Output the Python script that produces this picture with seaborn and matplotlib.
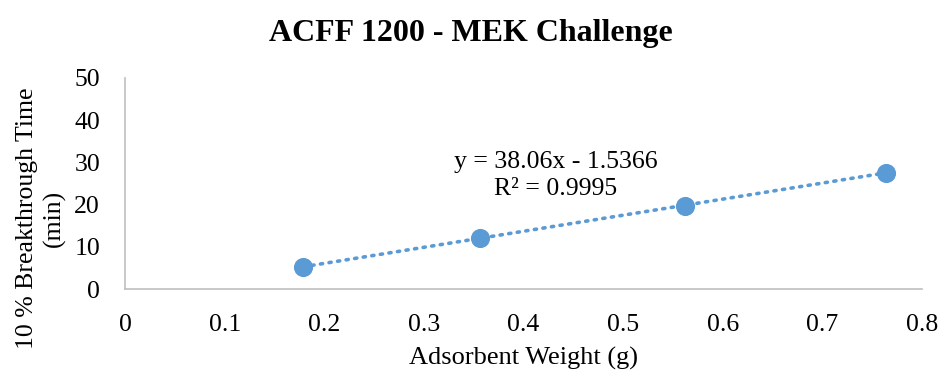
import numpy as np
import pandas as pd
import seaborn as sns
import matplotlib
matplotlib.use("Agg")
import matplotlib.pyplot as plt

# Adsorbent weight (g) and 10 % breakthrough time (min)
weight = [0.179, 0.356, 0.562, 0.764]
breakthrough = [5.3, 12.0, 19.6, 27.5]

# Linear trendline coefficients and fit quality
slope = 38.06
intercept = -1.5366
r_squared = 0.9995

x_ticks = [0, 0.1, 0.2, 0.3, 0.4, 0.5, 0.6, 0.7, 0.8]
x_tick_labels = ["0", "0.1", "0.2", "0.3", "0.4", "0.5", "0.6", "0.7", "0.8"]
y_ticks = [0, 10, 20, 30, 40, 50]

sns.set_theme(style="white")
plt.rcParams["font.family"] = ["Liberation Serif", "DejaVu Serif"]
plt.rcParams["text.color"] = "black"
plt.rcParams["axes.labelcolor"] = "black"

df = pd.DataFrame({"weight": weight, "time": breakthrough})

fig = plt.figure(figsize=(9.42, 3.75), dpi=100)
ax = fig.add_axes([0.1327, 0.2293, 0.9788 - 0.1327, 0.792 - 0.2293])

blue = "#5B9BD5"

# Dotted linear trendline over the data range
xs = np.array([min(weight), max(weight)])
ax.plot(xs, slope * xs + intercept, linestyle=(0, (0.6, 1.8)), dash_capstyle="round",
        color=blue, linewidth=2.6, zorder=2)

sns.scatterplot(data=df, x="weight", y="time", ax=ax, color=blue, s=190,
                edgecolor=blue, linewidth=0, zorder=3, legend=False)

ax.set_xlim(0, 0.8)
ax.set_ylim(0, 50)
ax.set_xticks(x_ticks)
ax.set_xticklabels(x_tick_labels)
ax.set_yticks(y_ticks)
ax.tick_params(axis="both", length=0, labelsize=18.5, colors="black")
ax.tick_params(axis="x", pad=18)
ax.tick_params(axis="y", pad=18)

for side in ["top", "right"]:
    ax.spines[side].set_visible(False)
for side in ["left", "bottom"]:
    ax.spines[side].set_color("#BFBFBF")
    ax.spines[side].set_linewidth(1.2)

ax.set_xlabel("Adsorbent Weight (g)", fontsize=19, labelpad=8, color="black")
ax.set_ylabel("")
fig.text(41 / 942, 1 - 218 / 375, "10 % Breakthrough Time\n(min)", fontsize=18.5,
         rotation=90, ha="center", va="center", multialignment="center",
         linespacing=1.3, color="black")

fig.suptitle("ACFF 1200 - MEK Challenge", fontsize=23, fontweight="bold",
             x=0.5, y=1 - 34 / 375, va="center", color="black")

sign = "-" if intercept < 0 else "+"
eq_text = f"y = {slope:.2f}x {sign} {abs(intercept):.4f}\nR² = {r_squared:.4f}"
ax.text(0.432, 26.9, eq_text, fontsize=18.5, ha="center", va="center",
        multialignment="center", linespacing=1.3, color="black")

fig.savefig("out.png", dpi=100, facecolor="white")
